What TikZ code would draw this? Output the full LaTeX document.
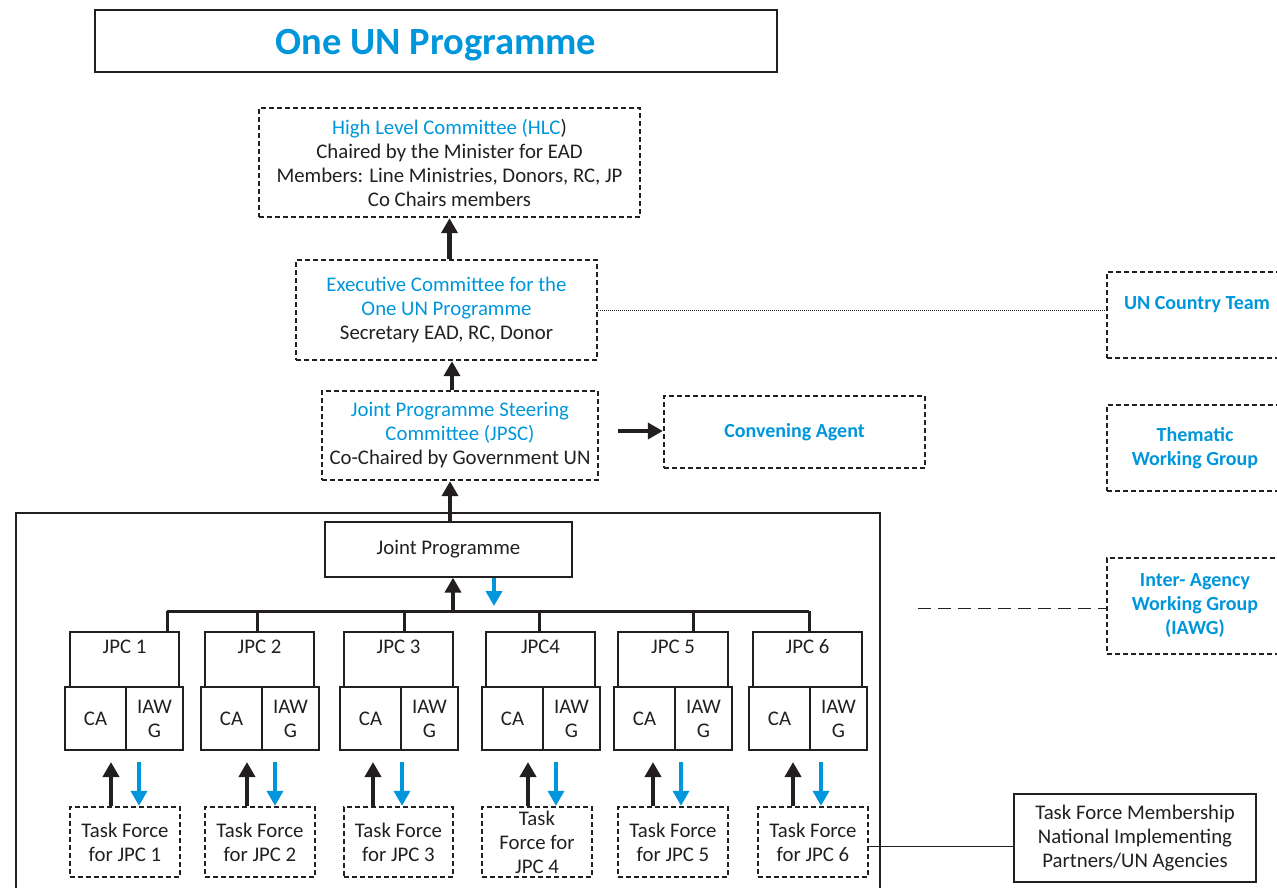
\documentclass[tikz,border=0pt]{standalone}
\usepackage{fontspec}
\setmainfont{Carlito}
\usetikzlibrary{arrows.meta}
\definecolor{unblue}{HTML}{0096DB}
\definecolor{ink}{HTML}{231F20}
\tikzset{
  base/.style={inner sep=0pt, align=center, text=ink, font=\fontsize{20.8}{24}\selectfont},
  dbox/.style={base, draw=ink, line width=2.4pt, dash pattern=on 5pt off 3pt},
  sbox/.style={base, draw=ink, line width=1.3pt},
  txt/.style={base},
  bluebold/.style={text=unblue, font=\fontsize{20}{24}\selectfont\bfseries},
  barrow/.style={draw=ink, line width=4.5pt, -{Triangle[width=16pt,length=15pt]}},
  blarrow/.style={draw=unblue, line width=3.5pt, -{Triangle[width=16pt,length=15pt]}},
}
\newcommand{\mybox}[7]{\node[#6, minimum width={#4-#2}, minimum height={#5-#3}] (#1) at ({(#2+#4)/2},{(#3+#5)/2}) {#7};}
\begin{document}
\begin{tikzpicture}[x=1pt,y=-1pt]
\useasboundingbox (0,0) rectangle (1277,888);
\clip (0,0) rectangle (1277,888);
% title
\mybox{title}{95}{10}{777}{72}{base, draw=ink, line width=2.5pt}{}
\node[base, text=unblue, font=\fontsize{38.5}{40}\selectfont\bfseries] (titletxt) at (436,45) {One UN Programme};
% upper committees
\mybox{hlc}{259}{108}{640}{217}{dbox}{\textcolor{unblue}{High Level Committee (HLC}){}\\Chaired by the Minister for EAD\\Members: Line Ministries, Donors, RC, JP\\Co Chairs members}
\mybox{exec}{296}{260}{597}{360}{dbox}{\textcolor{unblue}{Executive Committee for the}\\\textcolor{unblue}{One UN Programme}\\Secretary EAD, RC, Donor}
\mybox{jpsc}{322}{391}{598}{480}{dbox}{\textcolor{unblue}{Joint Programme Steering}\\\textcolor{unblue}{Committee (JPSC)}\\Co-Chaired by Government UN}
\mybox{conv}{664}{396}{925}{468}{dbox, bluebold}{Convening Agent}
% right column
\mybox{unct}{1107}{272}{1283}{358}{dbox}{}
\node[base, bluebold] (uncttxt) at (1197,305) {UN Country Team};
\mybox{twg}{1107}{405}{1283}{491}{dbox, bluebold}{Thematic\\Working Group}
\mybox{iawgr}{1107}{558}{1283}{654}{dbox, bluebold}{Inter- Agency\\Working Group\\(IAWG)}
\mybox{tfm}{1014}{794}{1256}{882}{sbox}{Task Force Membership\\National Implementing\\Partners/UN Agencies}
% arrows between committees
\draw[barrow] (exec.north -| hlc.south) -- (hlc.south);
\coordinate (ea) at (452,0);
\draw[barrow] (jpsc.north -| ea) -- (exec.south -| ea);
\coordinate (ca0) at (618,431);
\draw[barrow] (ca0) -- (conv.west |- ca0);
\draw[line width=0.8pt, dash pattern=on 1pt off 1pt, ink] (exec.east) -- (unct.west |- exec.east);
\coordinate (dl) at (918,608);
\draw[line width=1pt, dash pattern=on 13pt off 7pt, ink] (dl) -- (iawgr.west |- dl);
% frame
\draw[line width=2.5pt, ink] (16,513) rectangle (880,900);
% joint programme
\mybox{jp}{325}{522}{572}{577}{sbox}{Joint Programme}
\coordinate (ja) at (450,0);
\draw[barrow] (jp.north -| ja) -- (jpsc.south -| ja);
\coordinate (busL) at (167,611);
\coordinate (busR) at (809,611);
\draw[line width=3pt, ink] (busL) -- (busR);
\coordinate (jb) at (453,611);
\draw[barrow] (jb) -- (jp.south -| jb);
\coordinate (jbl) at (494,606);
\draw[blarrow] (jp.south -| jbl) -- (jbl);
% JPC units
\foreach \i/\lab/\ta/\tb/\sa/\sb/\sp/\ab/\ac/\fa/\fb/\dx/\tf in {
  1/{JPC 1}/70/179/65/183/126/111/139/70/180/167/{Task Force\\for JPC 1},
  2/{JPC 2}/205/314/201/319/262/247/275/205/315/257/{Task Force\\for JPC 2},
  3/{JPC 3}/344/453/340/458/401/373/402/344/453/404/{Task Force\\for JPC 3},
  4/{JPC4}/486/595/482/600/543/528/556/482/592/539/{Task\\Force for\\JPC 4},
  5/{JPC 5}/618/728/614/732/675/653/681/618/728/693/{Task Force\\for JPC 5},
  6/{JPC 6}/753/862/749/867/810/793/821/758/868/809/{Task Force\\for JPC 6}} {
  \mybox{jpc\i}{\ta}{632}{\tb}{687}{sbox}{}
  \node[txt] (jpct\i) at ({(\ta+\tb)/2},647) {\lab};
  \mybox{ca\i}{\sa}{687}{\sp}{750}{sbox}{CA}
  \mybox{iw\i}{\sp}{687}{\sb}{750}{sbox}{IAW\\G}
  \mybox{tf\i}{\fa}{807}{\fb}{877}{dbox}{\tf}
  \coordinate (d\i) at (\dx,611);
  \draw[line width=3pt, ink] (d\i) -- (jpc\i.north -| d\i);
  \coordinate (up\i) at (\ab,762);
  \draw[barrow] (tf\i.north -| up\i) -- (up\i);
  \coordinate (dn\i) at (\ac,762);
  \draw[blarrow] (dn\i) -- (tf\i.north -| dn\i);
}
\coordinate (tfl) at (0,846);
\draw[line width=1pt, ink] (tf6.east |- tfl) -- (tfm.west |- tfl);
\end{tikzpicture}
\end{document}
